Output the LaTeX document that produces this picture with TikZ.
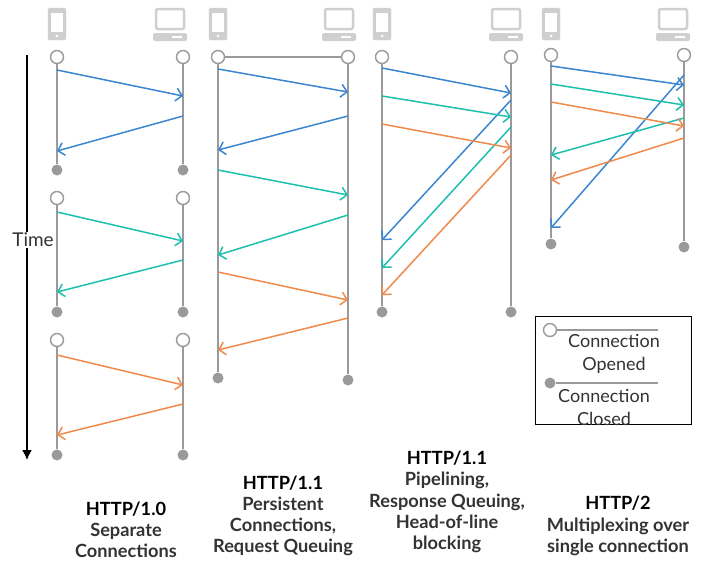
\documentclass[tikz,border=0pt]{standalone}
\usepackage{fontspec}
\setmainfont{Lato}
\usetikzlibrary{arrows.meta, positioning}
\definecolor{reqblue}{HTML}{3B86D0}
\definecolor{reqteal}{HTML}{1DBFAE}
\definecolor{reqorange}{HTML}{F08A4B}
\definecolor{lifegray}{HTML}{9A9A9A}
\definecolor{icongray}{HTML}{CFCFCF}
\definecolor{textgray}{HTML}{333333}
\begin{document}
\begin{tikzpicture}[x=1pt,y=-1pt,font=\sffamily,
    open/.style={circle, draw=lifegray, line width=1.4pt, fill=white, minimum size=13pt, inner sep=0pt},
    closed/.style={circle, fill=lifegray, minimum size=11pt, inner sep=0pt},
    life/.style={draw=lifegray, line width=1.4pt},
    msg/.style={line width=1.5pt, -{Straight Barb[length=6pt,width=13pt]}},
    caption/.style={font=\fontsize{18.2}{21.2}\selectfont\bfseries, text=textgray, align=center},
    legend/.style={font=\fontsize{18}{23}\selectfont, text=textgray, align=center}]
  \useasboundingbox (0,0) rectangle (717,579);

  % Device icons
  \foreach \cx in {57,218,382,551} {
    \draw[icongray, fill=icongray, rounded corners=1.5pt] (\cx-9,8) rectangle (\cx+9,40);
    \fill[white] (\cx-6,13) rectangle (\cx+6,32);
    \fill[white] (\cx,36) circle (1.5pt);
  }
  \foreach \sx in {170,339,506,673} {
    \draw[icongray, line width=2.5pt, rounded corners=2pt] (\sx-14,9) rectangle (\sx+14,29);
    \fill[icongray, rounded corners=2pt] (\sx-17,33) rectangle (\sx+17,41);
    \fill[white] (\sx+2,36) rectangle (\sx+12,38);
  }

  % Time axis
  \coordinate (ttop) at (27,55);
  \coordinate (tbot) at (27,460);
  \draw[line width=1.6pt, -{Latex[length=10pt,width=10pt]}] (ttop) -- (tbot);
  \node[fill=white, inner sep=1pt, font=\fontsize{19}{22}\selectfont, text=textgray] (time) at (33,240) {Time};

  % HTTP/1.0: separate connections
  \foreach \i/\yo/\yc in {1/57/170, 2/198/312, 3/340/455} {
    \node[open] (ca\i) at (57,\yo) {};
    \node[open] (sa\i) at (183,\yo) {};
    \node[closed] (cc\i) at (57,\yc) {};
    \node[closed] (sc\i) at (183,\yc) {};
    \draw[life] (ca\i) -- (cc\i);
    \draw[life] (sa\i) -- (sc\i);
  }
  \foreach \col/\a/\b/\c/\d in {reqblue/70/96/116/151, reqteal/212/241/260/292, reqorange/355/385/404/435} {
    \coordinate (p) at (57,\a);  \coordinate (q) at (183,\b);
    \draw[msg, \col] (p) -- (q);
    \coordinate (p) at (183,\c); \coordinate (q) at (57,\d);
    \draw[msg, \col] (p) -- (q);
  }

  % HTTP/1.1: persistent connection
  \node[open] (cb) at (218,57) {};
  \node[open] (sb) at (348,57) {};
  \node[closed] (cbx) at (218,378) {};
  \node[closed] (sbx) at (348,380) {};
  \draw[life] (cb) -- (sb);
  \draw[life] (cb) -- (cbx);
  \draw[life] (sb) -- (sbx);
  \foreach \col/\a/\b/\c/\d in {reqblue/69/92/116/150, reqteal/170/195/215/255, reqorange/272/300/318/350} {
    \coordinate (p) at (218,\a); \coordinate (q) at (348,\b);
    \draw[msg, \col] (p) -- (q);
    \coordinate (p) at (348,\c); \coordinate (q) at (218,\d);
    \draw[msg, \col] (p) -- (q);
  }

  % HTTP/1.1: pipelining
  \node[open] (cp) at (382,57) {};
  \node[open] (sp) at (511,57) {};
  \node[closed] (cpx) at (382,312) {};
  \node[closed] (spx) at (511,312) {};
  \draw[life] (cp) -- (cpx);
  \draw[life] (sp) -- (spx);
  \foreach \col/\a/\b/\c/\d in {reqblue/68/93/100/240, reqteal/96/117/127/268, reqorange/124/148/155/295} {
    \coordinate (p) at (382,\a); \coordinate (q) at (511,\b);
    \draw[msg, \col] (p) -- (q);
    \coordinate (p) at (511,\c); \coordinate (q) at (382,\d);
    \draw[msg, \col] (p) -- (q);
  }

  % HTTP/2: multiplexing
  \node[open] (cm) at (551,55) {};
  \node[open] (sm) at (684,55) {};
  \node[closed] (cmx) at (551,244) {};
  \node[closed] (smx) at (684,247) {};
  \draw[life] (cm) -- (cmx);
  \draw[life] (sm) -- (smx);
  \foreach \col/\a/\b/\c/\d in {reqblue/66/85/75/228, reqteal/84/105/118/155, reqorange/102/126/138/180} {
    \coordinate (p) at (551,\a); \coordinate (q) at (684,\b);
    \draw[msg, \col] (p) -- (q);
    \coordinate (p) at (684,\c); \coordinate (q) at (551,\d);
    \draw[msg, \col] (p) -- (q);
  }

  % Legend
  \draw[line width=0.8pt] (535,316) rectangle (691,424);
  \node[open] (lo) at (550,330) {};
  \coordinate (loe) at (658,330);
  \draw[life] (lo) -- (loe);
  \node[legend] (lot) at (614,354) {Connection\\Opened};
  \node[closed] (lc) at (550,383) {};
  \coordinate (lce) at (658,383);
  \draw[life] (lc) -- (lce);
  \node[legend] (lct) at (604,407) {Connection\\Closed};

  % Captions
  \node[caption] (h10) at (126,530) {{\color{black}HTTP/1.0}\\Separate\\Connections};
  \node[caption] (h11a) at (283,516) {{\color{black}HTTP/1.1}\\Persistent\\Connections,\\Request Queuing};
  \node[caption] (h11b) at (447,502) {{\color{black}HTTP/1.1}\\Pipelining,\\Response Queuing,\\Head-of-line\\blocking};
  \node[caption] (h2) at (618,526) {{\color{black}HTTP/2}\\Multiplexing over\\single connection};
\end{tikzpicture}
\end{document}
